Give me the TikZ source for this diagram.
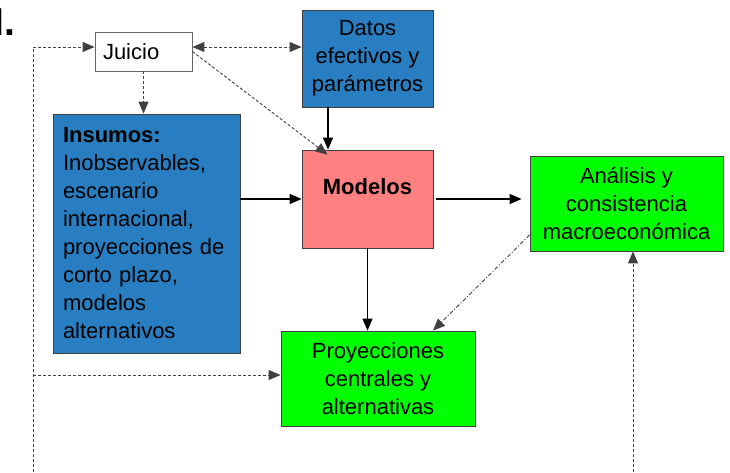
\documentclass[tikz,border=0pt]{standalone}
\usepackage{fontspec}
\setmainfont{Liberation Sans}
\usetikzlibrary{arrows.meta}
\definecolor{insblue}{RGB}{40,126,192}
\definecolor{modpink}{RGB}{255,128,128}
\definecolor{progreen}{RGB}{0,255,0}

\begin{document}
\begin{tikzpicture}[x=1pt,y=1pt,
  >={Triangle[length=12pt,width=10pt]},
  box/.style={draw=black!75,line width=0.8pt,inner sep=0pt,align=center,
    font=\fontsize{22}{28}\selectfont},
  sline/.style={draw=black,line width=1.1pt},
  dline/.style={draw=black!75,line width=0.9pt,dash pattern=on 3pt off 2pt},
  ddline/.style={draw=black!75,line width=0.9pt,dash pattern=on 4pt off 2pt on 1pt off 2pt}]
  \useasboundingbox (0,0) rectangle (730,472);

  % heading, cut off at the left
  \node[anchor=base west,inner sep=0pt,font=\bfseries\fontsize{39}{39}\selectfont] (sec) at (-6.3,436) {I.};

  \node[box,draw=black!60,fill=white,minimum width=97pt,minimum height=39pt,
    text width=81pt,align=left] (juicio) at (143.5,420.5) {Juicio};
  \node[box,fill=insblue,minimum width=131pt,minimum height=97pt] (datos) at (367.5,413.5)
    {Datos\\efectivos y\\parámetros};
  \node[box,fill=insblue,minimum width=187pt,minimum height=239pt,
    text width=167pt,align=left] (insumos) at (146.5,238.5)
    {\textbf{Insumos:}\\Inobservables,\\escenario\\internacional,\\proyecciones de\\corto plazo,\\modelos\\alternativos};
  \node[box,fill=modpink,minimum width=131pt,text height=44pt,text depth=54pt,
    font=\bfseries\fontsize{22}{28}\selectfont] (modelos) at (367.5,273) {Modelos};
  \node[box,fill=progreen,minimum width=193pt,minimum height=95pt] (analisis) at (626.5,268.5)
    {Análisis y\\consistencia\\macroeconómica};
  \node[box,fill=progreen,minimum width=194pt,minimum height=95pt] (proy) at (378,93.5)
    {Proyecciones\\centrales y\\alternativas};

  \coordinate (lb) at (33,0);
  \coordinate (rb) at (633,0);
  \coordinate (jin) at ([yshift=4.5pt]juicio.west);
  \coordinate (pin) at ([yshift=3.5pt]proy.west);
  \coordinate (jm) at ([xshift=-40pt,yshift=-5pt]modelos.north);
  \coordinate (dm) at ([xshift=-39.5pt]datos.south);
  \coordinate (ap) at ([yshift=-31.5pt]analisis.west);
  \coordinate (pa) at ([xshift=55pt]proy.north);

  % feedback lines
  \draw[dline,->] (lb) |- (jin);
  \draw[dline,->] (lb |- pin) -- (pin);
  \draw[dline,->] (rb) -- (rb |- analisis.south);
  \draw[dline,<->] (juicio.east |- jin) -- (datos.west |- jin);
  \draw[dline,->] (juicio.south) -- (juicio.south |- insumos.north);
  \draw[dline,->] (juicio.east) -- (jm);
  \draw[ddline,->] (ap) -- (pa);

  % main flow
  \draw[sline,->] (dm) -- (dm |- modelos.north);
  \draw[sline,->] (insumos.east |- modelos.west) -- (modelos.west);
  \draw[sline,->,shorten <=3pt,shorten >=8pt] (modelos.east) -- (modelos.east -| analisis.west);
  \draw[sline,->] (modelos.south) -- (modelos.south |- proy.north);
\end{tikzpicture}
\end{document}
